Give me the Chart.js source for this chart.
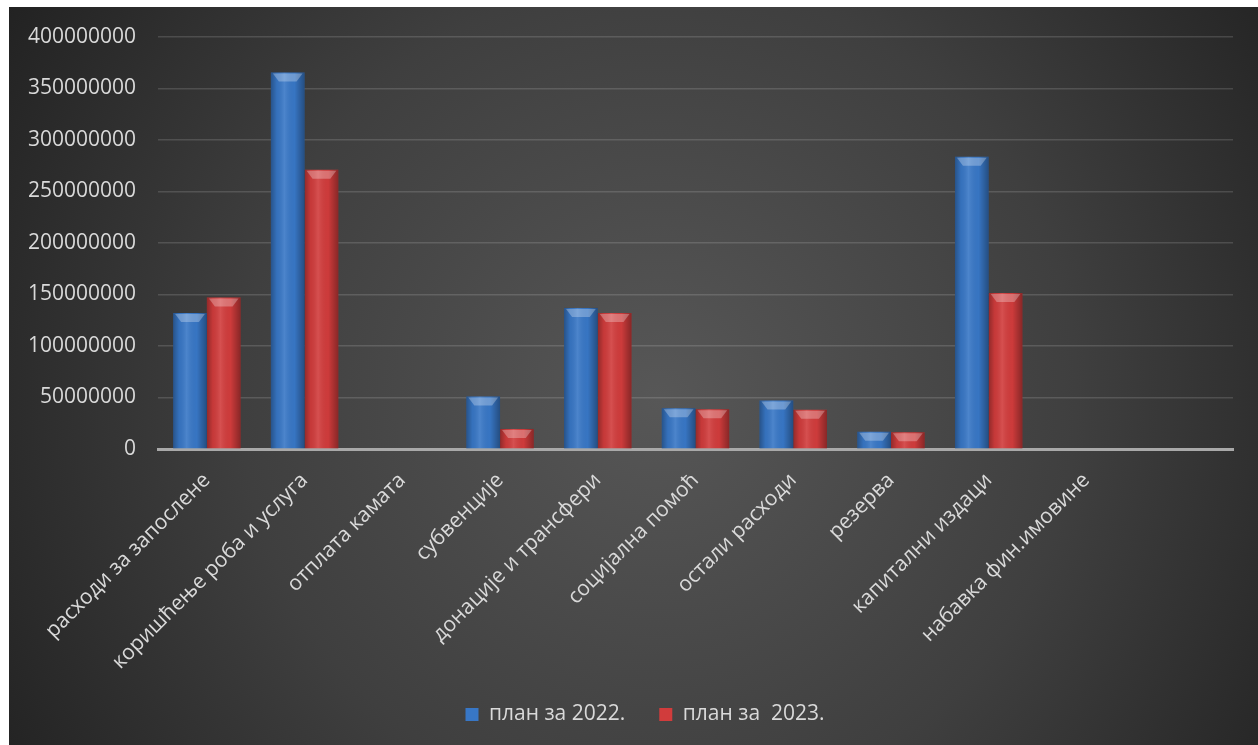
<!DOCTYPE html>
<html>
<head>
<meta charset="utf-8">
<script src="https://cdn.jsdelivr.net/npm/chart.js@4/dist/chart.umd.min.js"></script>
<style>
  html, body { margin: 0; padding: 0; background: #ffffff; }
  #wrap { position: absolute; left: 9px; top: 7px; width: 1249px; height: 738px; }
  canvas { display: block; }
</style>
</head>
<body>
<div id="wrap"><canvas id="c" width="1249" height="738"></canvas></div>
<script>
const categories = [
  'расходи за запослене',
  'коришћење роба и услуга',
  'отплата камата',
  'субвенције',
  'донације и трансфери',
  'социјална помоћ',
  'остали расходи',
  'резерва',
  'капитални издаци',
  'набавка фин.имовине',
  ''
];
const plan2022 = [132000000, 365500000, 0, 51000000, 137000000, 39600000, 47000000, 16800000, 283700000, 0, 0];
const plan2023 = [147000000, 271000000, 0, 19500000, 132000000, 38600000, 38000000, 16200000, 151500000, 0, 0];
const seriesNames = ['план за 2022.', 'план за  2023.'];
const yTicks = { min: 0, max: 400000000, step: 50000000 };

const FONT = "'Open Sans', 'Noto Sans', sans-serif";

const bgPlugin = {
  id: 'bg',
  beforeDraw(chart) {
    const ctx = chart.ctx, w = chart.width, h = chart.height;
    ctx.save();
    const g = ctx.createRadialGradient(650, 390, 0, 650, 390, 760);
    g.addColorStop(0, '#575757');
    g.addColorStop(0.55, '#3f3f3f');
    g.addColorStop(1, '#222222');
    ctx.fillStyle = g;
    ctx.fillRect(0, 0, w, h);
    ctx.restore();
  }
};

const legendShift = {
  id: 'legendShift',
  afterLayout(chart) {
    if (chart.legend) { chart.legend.left += 24; chart.legend.right += 24; }
  }
};

const shadePlugin = {
  id: 'shade',
  afterDatasetsDraw(chart) {
    const ctx = chart.ctx;
    chart.data.datasets.forEach((ds, i) => {
      const meta = chart.getDatasetMeta(i);
      meta.data.forEach(el => {
        const p = el.getProps(['x', 'y', 'base', 'width'], true);
        const h = p.base - p.y;
        if (h < 1) return;
        const l = p.x - p.width / 2, r = p.x + p.width / 2;
        ctx.save();
        const g = ctx.createLinearGradient(l, 0, r, 0);
        g.addColorStop(0, 'rgba(0,0,0,0.30)');
        g.addColorStop(0.18, 'rgba(0,0,0,0.05)');
        g.addColorStop(0.4, 'rgba(255,255,255,0.10)');
        g.addColorStop(0.7, 'rgba(0,0,0,0.02)');
        g.addColorStop(1, 'rgba(0,0,0,0.35)');
        ctx.fillStyle = g;
        ctx.fillRect(l, p.y, p.width, h);
        const capH = Math.min(9, h);
        ctx.beginPath();
        ctx.moveTo(l + 2, p.y + 1);
        ctx.lineTo(r - 2, p.y + 1);
        ctx.lineTo(r - 8, p.y + capH);
        ctx.lineTo(l + 8, p.y + capH);
        ctx.closePath();
        ctx.fillStyle = 'rgba(255,255,255,0.28)';
        ctx.fill();
        ctx.restore();
      });
    });
  }
};

new Chart(document.getElementById('c'), {
  type: 'bar',
  data: {
    labels: categories,
    datasets: [
      { label: seriesNames[0], data: plan2022, backgroundColor: '#3877c6', borderWidth: 0 },
      { label: seriesNames[1], data: plan2023, backgroundColor: '#d13c3c', borderWidth: 0 }
    ]
  },
  options: {
    responsive: false,
    animation: false,
    devicePixelRatio: 1,
    layout: { padding: { left: 0, right: 25, top: 30, bottom: 10 } },
    datasets: { bar: { categoryPercentage: 0.69, barPercentage: 1.0 } },
    plugins: {
      legend: {
        position: 'bottom',
        labels: {
          color: '#d9d9d9',
          font: { family: FONT, size: 21 },
          boxWidth: 13,
          boxHeight: 13,
          padding: 34
        }
      },
      tooltip: { enabled: false }
    },
    scales: {
      x: {
        grid: { display: false, drawTicks: false },
        border: { display: true, color: '#a9a9a9', width: 3 },
        ticks: {
          color: '#d9d9d9',
          font: { family: FONT, size: 21 },
          minRotation: 45,
          maxRotation: 45,
          padding: 19,
          autoSkip: false
        },
        afterFit(scale) { scale.height = 221; }
      },
      y: {
        min: yTicks.min,
        max: yTicks.max,
        grid: { color: 'rgba(255,255,255,0.14)', lineWidth: 1.5, drawTicks: false },
        border: { display: false },
        ticks: {
          stepSize: yTicks.step,
          color: '#d9d9d9',
          font: { family: FONT, size: 21 },
          padding: 22,
          callback: v => String(v)
        },
        afterFit(scale) { scale.width = 149; scale.paddingTop = 0; scale.paddingBottom = 0; }
      }
    }
  },
  plugins: [bgPlugin, legendShift, shadePlugin]
});
</script>
</body>
</html>
